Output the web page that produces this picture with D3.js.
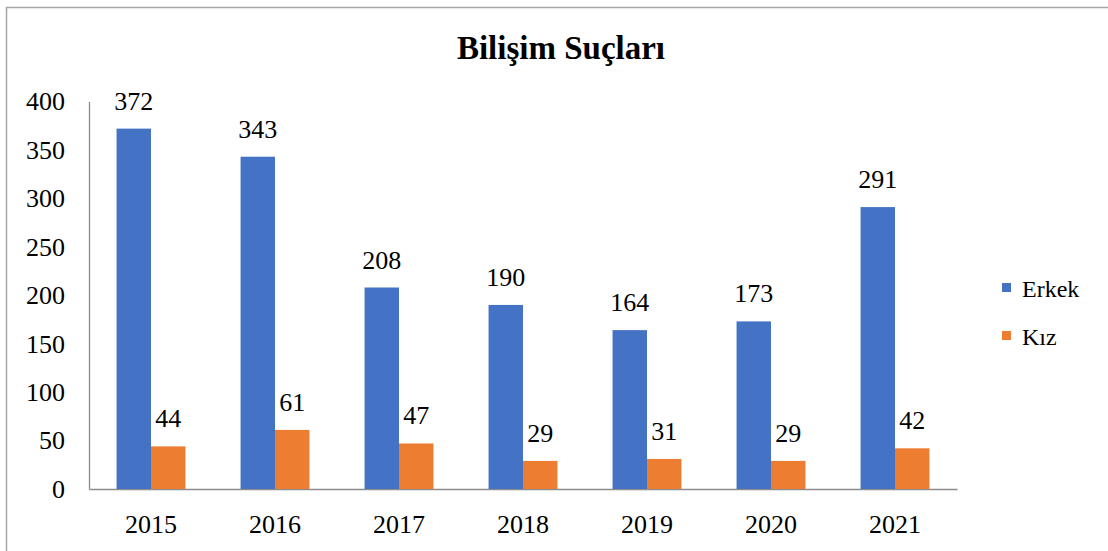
<!DOCTYPE html>
<html>
<head>
<meta charset="utf-8">
<script src="https://cdn.jsdelivr.net/npm/d3@7"></script>
<style>
  body { margin: 0; background: #fff; }
  svg text { font-family: "Liberation Serif", "Times New Roman", serif !important; }
</style>
</head>
<body>
<svg width="1108" height="551"></svg>
<script>
var years = ["2015", "2016", "2017", "2018", "2019", "2020", "2021"];
var erkek = [372, 343, 208, 190, 164, 173, 291];
var kiz = [44, 61, 47, 29, 31, 29, 42];
var seriesNames = ["Erkek", "Kız"];
var seriesColors = ["#4472C4", "#ED7D31"];
var yTicks = [0, 50, 100, 150, 200, 250, 300, 350, 400];

var svg = d3.select("svg"),
  margin = { top: 101.5, left: 89, right: 151, bottom: 62 },
  width = +svg.attr("width") - margin.left - margin.right,
  height = +svg.attr("height") - margin.top - margin.bottom;

// chart border (only left and top edges show in the picture)
svg.append("rect")
  .attr("x", 6.5).attr("y", 7.5)
  .attr("width", 1200).attr("height", 600)
  .attr("fill", "none")
  .attr("stroke", "#a6a6a6")
  .attr("stroke-width", 1.5);

svg.append("text")
  .attr("x", 561).attr("y", 59)
  .attr("text-anchor", "middle")
  .attr("font-size", 33)
  .attr("font-weight", "bold")
  .attr("fill", "#000")
  .text("Bilişim Suçları");

var g = svg.append("g").attr("transform", "translate(" + margin.left + "," + margin.top + ")");

var x = d3.scaleBand().domain(years).range([0, width]);
var x1 = d3.scaleBand().domain(seriesNames).range([0, x.bandwidth() / 1.8]);
var y = d3.scaleLinear().domain([0, 400]).range([height, 0]);

var data = years.map(function (yr, i) {
  return { year: yr, values: [erkek[i], kiz[i]] };
});

var yAxis = g.append("g")
  .call(d3.axisLeft(y).tickValues(yTicks).tickSize(0).tickPadding(24));
yAxis.select(".domain").attr("stroke", "#8c8c8c").attr("stroke-width", 1.3);
yAxis.selectAll("text").attr("font-size", 26).attr("fill", "#000");

var xAxis = g.append("g")
  .attr("transform", "translate(0," + height + ")")
  .call(d3.axisBottom(x).tickSize(0).tickSizeOuter(0));
xAxis.select(".domain").attr("stroke", "#8c8c8c").attr("stroke-width", 1.3);
xAxis.selectAll("text").attr("font-size", 26).attr("fill", "#000")
  .attr("y", 44).attr("dy", null);

var groups = g.selectAll(".grp")
  .data(data)
  .enter().append("g")
  .attr("transform", function (d) {
    return "translate(" + (x(d.year) + (x.bandwidth() - x1.range()[1]) / 2) + ",0)";
  });

var cells = groups.selectAll(".bar")
  .data(function (d) {
    return d.values.map(function (v, j) { return { name: seriesNames[j], value: v, color: seriesColors[j] }; });
  })
  .enter();

cells.append("rect")
  .attr("x", function (d) { return x1(d.name); })
  .attr("y", function (d) { return y(d.value); })
  .attr("width", x1.bandwidth())
  .attr("height", function (d) { return height - y(d.value); })
  .attr("fill", function (d) { return d.color; });

cells.append("text")
  .attr("x", function (d) { return x1(d.name) + x1.bandwidth() / 2; })
  .attr("y", function (d) { return y(d.value) - 19; })
  .attr("text-anchor", "middle")
  .attr("font-size", 26)
  .attr("fill", "#000")
  .text(function (d) { return d.value; });

// legend
var legend = svg.selectAll(".legend")
  .data(seriesNames)
  .enter().append("g")
  .attr("transform", function (d, i) { return "translate(1002," + (283 + i * 48) + ")"; });

legend.append("rect")
  .attr("width", 9).attr("height", 9)
  .attr("fill", function (d, i) { return seriesColors[i]; });

legend.append("text")
  .attr("x", 20).attr("y", 14)
  .attr("font-size", 24)
  .attr("fill", "#000")
  .text(function (d) { return d; });
</script>
</body>
</html>
